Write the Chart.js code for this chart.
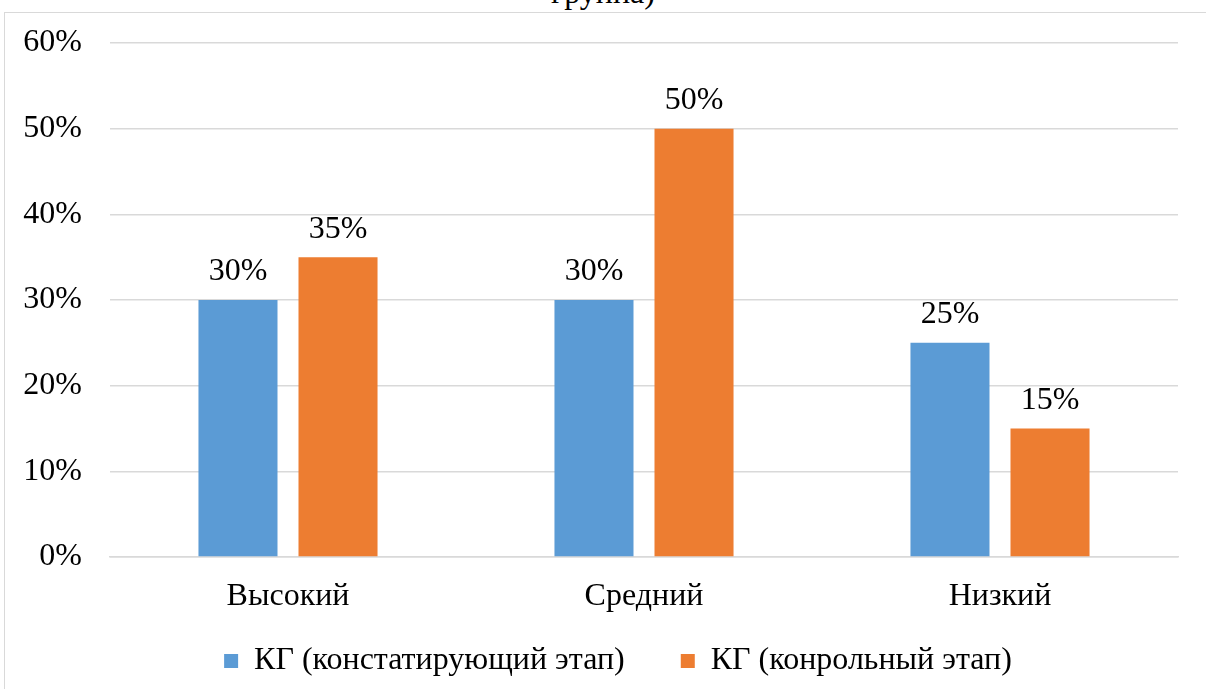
<!DOCTYPE html>
<html>
<head>
<meta charset="utf-8">
<script src="https://cdn.jsdelivr.net/npm/chart.js@4/dist/chart.umd.min.js"></script>
<style>
  html, body { margin: 0; padding: 0; background: #fff; overflow: hidden; }
  #wrap { position: relative; width: 1206px; height: 689px; }
  #frame { position: absolute; left: 4px; top: 12px; width: 1220px; height: 700px; border: 1px solid #d9d9d9; }
  #title { position: absolute; left: 0; width: 1206px; top: -24px; text-align: center;
           font: 32px "Liberation Serif", "Times New Roman", serif; color: #000; line-height: 32px; }
  canvas { position: absolute; left: 0; top: 0; }
</style>
</head>
<body>
<div id="wrap">
  <div id="frame"></div>
  <div id="title">группа)</div>
  <canvas id="myChart" width="1206" height="689"></canvas>
</div>
<script>
const categories = ['Высокий', 'Средний', 'Низкий'];
const seriesNames = ['КГ (констатирующий этап)', 'КГ (конрольный этап)'];
const stateValues = [30, 30, 25];
const controlValues = [35, 50, 15];
const yTicks = [0, 10, 20, 30, 40, 50, 60];

const font = 'Liberation Serif';

// value labels above the bars
const barLabels = {
  id: 'barLabels',
  afterDatasetsDraw(chart) {
    const ctx = chart.ctx;
    ctx.save();
    ctx.font = '32px "' + font + '"';
    ctx.fillStyle = '#000';
    ctx.textAlign = 'center';
    ctx.textBaseline = 'bottom';
    chart.data.datasets.forEach((ds, i) => {
      chart.getDatasetMeta(i).data.forEach((bar, j) => {
        ctx.fillText(ds.data[j] + '%', bar.x, bar.y - 12);
      });
    });
    ctx.restore();
  }
};

// legend: wide gap between items but a short box, nudged right
const legendTweak = {
  id: 'legendTweak',
  afterInit(chart) {
    const legend = chart.legend;
    const fit = legend.fit;
    const draw = legend.draw;
    legend.fit = function () {
      fit.call(this);
      this.height = 66;
    };
    legend.draw = function () {
      this.top -= 34;
      this.left += 29;
      this.right += 29;
      draw.call(this);
      this.top += 34;
      this.left -= 29;
      this.right -= 29;
    };
  }
};

const config = {
  type: 'bar',
  data: {
    labels: categories,
    datasets: [{
      label: seriesNames[0],
      data: stateValues,
      backgroundColor: '#5b9bd5',
      categoryPercentage: 0.562,
      barPercentage: 0.79
    }, {
      label: seriesNames[1],
      data: controlValues,
      backgroundColor: '#ed7d31',
      categoryPercentage: 0.562,
      barPercentage: 0.79
    }]
  },
  options: {
    responsive: false,
    animation: false,
    layout: { padding: { left: 0, right: 28, top: 43, bottom: 0 } },
    scales: {
      y: {
        min: 0,
        max: 60,
        afterBuildTicks(scale) { scale.ticks = yTicks.map(v => ({ value: v })); },
        afterFit(scale) {
          scale.width = 110;
          scale.paddingTop = 0;
          scale.paddingBottom = 0;
        },
        ticks: {
          color: '#000',
          font: { family: font, size: 32 },
          padding: 28,
          callback: v => v + '%'
        },
        grid: { color: '#d9d9d9', lineWidth: 1.5, drawTicks: false },
        border: { display: false }
      },
      x: {
        afterFit(scale) { scale.height = 66; },
        ticks: {
          color: '#000',
          font: { family: font, size: 32 },
          padding: 12
        },
        grid: { display: false },
        border: { color: '#d9d9d9', width: 1.5 }
      }
    },
    plugins: {
      legend: {
        position: 'bottom',
        labels: {
          color: '#000',
          font: { family: font, size: 32 },
          boxWidth: 14,
          boxHeight: 14,
          padding: 56
        }
      },
      tooltip: { enabled: false }
    }
  },
  plugins: [barLabels, legendTweak]
};

const myChart = new Chart(document.getElementById('myChart'), config);
</script>
</body>
</html>
